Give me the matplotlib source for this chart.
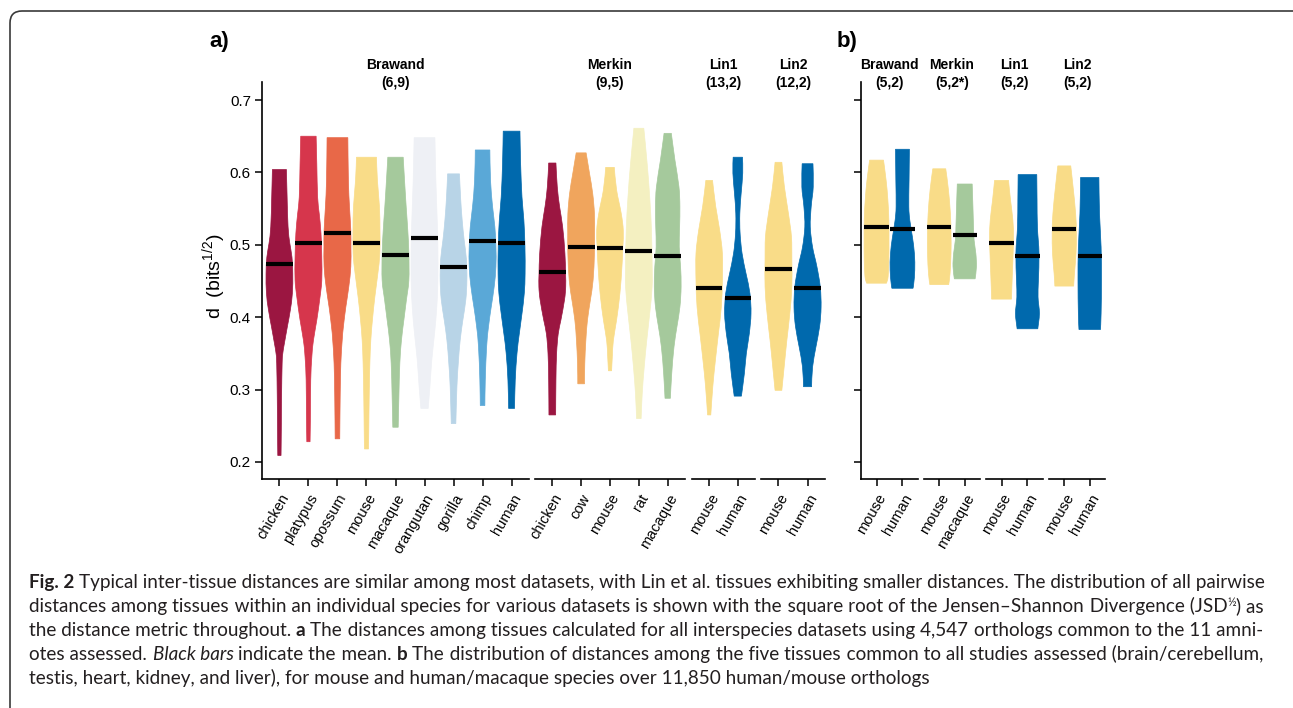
import numpy as np
import matplotlib
matplotlib.use("Agg")
import matplotlib.pyplot as plt
from matplotlib.patches import FancyBboxPatch, PathPatch
from matplotlib.path import Path
from matplotlib.transforms import IdentityTransform

# ---- data: violin profiles are (d, relative width) ----
brawand_species = ["chicken", "platypus", "opossum", "mouse", "macaque",
                   "orangutan", "gorilla", "chimp", "human"]
brawand_means = [0.473, 0.502, 0.517, 0.503, 0.486, 0.509, 0.470, 0.505, 0.503]
brawand_profiles = [
    [(0.604, 0.52), (0.566, 0.57), (0.525, 0.64), (0.502, 0.77), (0.483, 0.93), (0.460, 0.99),
     (0.433, 0.96), (0.410, 0.81), (0.387, 0.59), (0.364, 0.37), (0.350, 0.25), (0.336, 0.20),
     (0.290, 0.16), (0.244, 0.14), (0.209, 0.12)],
    [(0.650, 0.57), (0.612, 0.62), (0.566, 0.68), (0.543, 0.80), (0.516, 0.93), (0.483, 0.99),
     (0.451, 0.99), (0.428, 0.86), (0.396, 0.62), (0.368, 0.37), (0.345, 0.25), (0.313, 0.17),
     (0.267, 0.15), (0.228, 0.12)],
    [(0.648, 0.77), (0.589, 0.81), (0.553, 0.89), (0.520, 0.99), (0.497, 1.00), (0.470, 0.99),
     (0.442, 0.84), (0.414, 0.62), (0.387, 0.44), (0.368, 0.35), (0.336, 0.25), (0.290, 0.20),
     (0.232, 0.17)],
    [(0.621, 0.74), (0.589, 0.81), (0.553, 0.96), (0.520, 1.00), (0.488, 0.99), (0.460, 0.84),
     (0.428, 0.62), (0.396, 0.44), (0.368, 0.32), (0.336, 0.25), (0.290, 0.20), (0.244, 0.17),
     (0.218, 0.15)],
    [(0.621, 0.57), (0.589, 0.67), (0.553, 0.79), (0.520, 0.91), (0.488, 0.99), (0.451, 0.99),
     (0.424, 0.81), (0.396, 0.62), (0.368, 0.44), (0.336, 0.32), (0.290, 0.25), (0.248, 0.20)],
    [(0.648, 0.77), (0.589, 0.84), (0.534, 0.94), (0.497, 0.99), (0.451, 0.99), (0.414, 0.91),
     (0.377, 0.74), (0.341, 0.54), (0.304, 0.40), (0.274, 0.27)],
    [(0.598, 0.44), (0.566, 0.52), (0.534, 0.64), (0.506, 0.79), (0.479, 0.96), (0.451, 0.99),
     (0.424, 0.91), (0.396, 0.69), (0.368, 0.49), (0.336, 0.35), (0.304, 0.25), (0.253, 0.17)],
    [(0.631, 0.54), (0.589, 0.59), (0.553, 0.74), (0.525, 0.91), (0.497, 0.99), (0.470, 0.99),
     (0.442, 0.86), (0.414, 0.64), (0.387, 0.44), (0.359, 0.30), (0.313, 0.20), (0.278, 0.17)],
    [(0.657, 0.62), (0.612, 0.67), (0.566, 0.77), (0.534, 0.91), (0.497, 0.99), (0.460, 1.00),
     (0.433, 0.94), (0.405, 0.77), (0.377, 0.57), (0.350, 0.40), (0.313, 0.27), (0.274, 0.22)],
]

merkin_species = ["chicken", "cow", "mouse", "rat", "macaque"]
merkin_means = [0.462, 0.497, 0.495, 0.492, 0.485]
merkin_profiles = [
    [(0.613, 0.27), (0.580, 0.37), (0.553, 0.54), (0.525, 0.77), (0.488, 0.94), (0.460, 0.99),
     (0.442, 1.00), (0.424, 0.91), (0.396, 0.64), (0.377, 0.44), (0.350, 0.32), (0.313, 0.27),
     (0.265, 0.25)],
    [(0.627, 0.37), (0.599, 0.62), (0.571, 0.86), (0.543, 0.99), (0.516, 1.00), (0.488, 0.99),
     (0.451, 0.89), (0.424, 0.69), (0.396, 0.47), (0.368, 0.35), (0.336, 0.27), (0.308, 0.25)],
    [(0.607, 0.32), (0.576, 0.49), (0.543, 0.84), (0.520, 0.99), (0.497, 0.96), (0.470, 0.89),
     (0.433, 0.74), (0.396, 0.49), (0.368, 0.25), (0.345, 0.17), (0.326, 0.12)],
    [(0.661, 0.37), (0.612, 0.62), (0.566, 0.81), (0.520, 0.94), (0.474, 0.99), (0.442, 0.99),
     (0.405, 0.81), (0.368, 0.59), (0.331, 0.40), (0.294, 0.25), (0.260, 0.17)],
    [(0.654, 0.27), (0.617, 0.54), (0.580, 0.84), (0.553, 0.91), (0.525, 0.89), (0.497, 0.86),
     (0.470, 0.96), (0.442, 1.00), (0.414, 0.91), (0.387, 0.69), (0.359, 0.47), (0.322, 0.30),
     (0.288, 0.20)],
]

lin1_species = ["mouse", "human"]
lin1_means = [0.441, 0.427]
lin1_profiles = [
    [(0.589, 0.25), (0.553, 0.49), (0.520, 0.79), (0.488, 0.99), (0.451, 0.99), (0.414, 0.91),
     (0.377, 0.69), (0.341, 0.47), (0.304, 0.27), (0.265, 0.12)],
    [(0.621, 0.35), (0.599, 0.37), (0.571, 0.25), (0.543, 0.15), (0.516, 0.17), (0.488, 0.32),
     (0.460, 0.62), (0.433, 0.91), (0.405, 0.99), (0.377, 0.86), (0.350, 0.64), (0.322, 0.49),
     (0.291, 0.27)],
]

lin2_species = ["mouse", "human"]
lin2_means = [0.467, 0.441]
lin2_profiles = [
    [(0.614, 0.25), (0.580, 0.44), (0.543, 0.74), (0.511, 0.96), (0.479, 0.99), (0.442, 0.99),
     (0.405, 0.84), (0.368, 0.62), (0.331, 0.42), (0.299, 0.25)],
    [(0.612, 0.40), (0.580, 0.42), (0.553, 0.27), (0.525, 0.20), (0.497, 0.37), (0.470, 0.69),
     (0.442, 0.94), (0.414, 1.00), (0.387, 0.89), (0.359, 0.62), (0.331, 0.37), (0.304, 0.30)],
]

# panel b: five common tissues
b_brawand_species = ["mouse", "human"]
b_brawand_means = [0.524, 0.522]
b_brawand_profiles = [
    [(0.617, 0.56), (0.589, 0.77), (0.562, 0.91), (0.534, 0.99), (0.506, 1.00), (0.479, 0.99),
     (0.456, 0.93), (0.447, 0.80)],
    [(0.632, 0.56), (0.589, 0.53), (0.553, 0.51), (0.534, 0.59), (0.511, 0.80), (0.488, 0.96),
     (0.465, 0.99), (0.447, 0.91), (0.440, 0.85)],
]
b_merkin_species = ["mouse", "macaque"]
b_merkin_means = [0.524, 0.513]
b_merkin_profiles = [
    [(0.605, 0.53), (0.576, 0.75), (0.543, 0.91), (0.516, 0.96), (0.488, 0.96), (0.460, 0.88),
     (0.445, 0.77)],
    [(0.584, 0.61), (0.553, 0.67), (0.525, 0.72), (0.506, 0.77), (0.488, 0.91), (0.470, 0.96),
     (0.453, 0.85)],
]
b_lin1_species = ["mouse", "human"]
b_lin1_means = [0.503, 0.484]
b_lin1_profiles = [
    [(0.589, 0.56), (0.562, 0.72), (0.534, 0.91), (0.511, 0.96), (0.488, 0.93), (0.465, 0.88),
     (0.442, 0.83), (0.425, 0.80)],
    [(0.597, 0.75), (0.562, 0.77), (0.525, 0.80), (0.488, 0.93), (0.451, 0.88), (0.428, 0.85),
     (0.405, 0.96), (0.384, 0.83)],
]
b_lin2_species = ["mouse", "human"]
b_lin2_means = [0.522, 0.485]
b_lin2_profiles = [
    [(0.609, 0.53), (0.580, 0.72), (0.543, 0.93), (0.516, 0.99), (0.488, 0.96), (0.460, 0.83),
     (0.443, 0.77)],
    [(0.593, 0.75), (0.543, 0.80), (0.497, 0.93), (0.451, 0.96), (0.405, 0.93), (0.383, 0.88)],
]

a_strips = [("Brawand", "(6,9)"), ("Merkin", "(9,5)"), ("Lin1", "(13,2)"), ("Lin2", "(12,2)")]
b_strips = [("Brawand", "(5,2)"), ("Merkin", "(5,2*)"), ("Lin1", "(5,2)"), ("Lin2", "(5,2)")]
y_ticks = [0.2, 0.3, 0.4, 0.5, 0.6, 0.7]

caption_lines = [
    [("Fig. 2", "b"), (" Typical inter-tissue distances are similar among most datasets, with Lin et al. "
                       "tissues exhibiting smaller distances. The distribution of all pairwise", "n")],
    [("distances among tissues within an individual species for various datasets is shown with the square "
      "root of the Jensen\u2013Shannon Divergence (JSD", "n"), ("\u00bd", "sup"), (") as", "n")],
    [("the distance metric throughout. ", "n"), ("a", "b"),
     (" The distances among tissues calculated for all interspecies datasets using 4,547 orthologs "
      "common to the 11 amni-", "n")],
    [("otes assessed. ", "n"), ("Black bars", "i"), (" indicate the mean. ", "n"), ("b", "b"),
     (" The distribution of distances among the five tissues common to all studies assessed "
      "(brain/cerebellum,", "n")],
    [("testis, heart, kidney, and liver), for mouse and human/macaque species over 11,850 "
      "human/mouse orthologs", "n")],
]

palette = {
    "chicken": "#9b1641", "platypus": "#d6364c", "opossum": "#e86848", "mouse": "#f9dc88",
    "macaque": "#a5c99c", "orangutan": "#eef0f5", "gorilla": "#b8d4e7", "chimp": "#5aa8d7",
    "human": "#0069ad", "cow": "#f0a55d", "rat": "#f4f0c1",
}

W, H = 1293, 708
plt.rcParams['font.family'] = ['Liberation Sans', 'DejaVu Sans']
plt.rcParams['mathtext.fontset'] = 'custom'
plt.rcParams['mathtext.rm'] = 'Liberation Sans'
plt.rcParams['mathtext.it'] = 'Liberation Sans'

fig = plt.figure(figsize=(W / 100, H / 100), dpi=100)
fig.patch.set_facecolor('white')

YLO, YHI = 0.1765, 0.7249
TOP, BOT = 82, 479


def fx(x):
    return x / W


def fy(y):
    return 1 - y / H


def bezier_through(pts):
    # cubic segments through the knots (Catmull-Rom handles)
    verts = []
    n = len(pts)
    for i in range(n - 1):
        p0, p1 = pts[max(i - 1, 0)], pts[i]
        p2, p3 = pts[i + 1], pts[min(i + 2, n - 1)]
        verts += [p1 + (p2 - p0) / 6, p2 - (p3 - p1) / 6, p2]
    return verts


def violin_path(pos, d, w):
    right = [np.array([pos + a, b]) for a, b in zip(w, d)]
    left = [np.array([pos - a, b]) for a, b in zip(w[::-1], d[::-1])]
    verts = [right[0]] + bezier_through(right) + [left[0]] + bezier_through(left) + [right[0]]
    codes = ([Path.MOVETO] + [Path.CURVE4] * (3 * (len(right) - 1)) + [Path.LINETO]
             + [Path.CURVE4] * (3 * (len(left) - 1)) + [Path.CLOSEPOLY])
    return Path(verts, codes)


def draw_facet(x0, x1, names, profiles, means, half, first, labels):
    ax = fig.add_axes([fx(x0), fy(BOT), (x1 - x0) / W, (BOT - TOP) / H])
    for i, (name, prof, m) in enumerate(zip(names, profiles, means)):
        pos = i + 1
        d = np.array([p[0] for p in prof])
        w = np.array([p[1] for p in prof]) * half
        ax.add_patch(PathPatch(violin_path(pos, d, w), facecolor=palette[name],
                               edgecolor=palette[name], lw=0.5))
        ax.plot([pos - half, pos + half], [m, m], color='black', lw=3,
                solid_capstyle='butt')
    ax.set_xlim(0.4, len(names) + 0.6)
    ax.set_ylim(YLO, YHI)
    ax.set_xticks(range(1, len(names) + 1))
    ax.set_xticklabels(names, rotation=60, ha='right', va='top',
                       rotation_mode='anchor', fontsize=10.5)
    ax.tick_params(axis='x', length=5, width=1.1, pad=4, color='black')
    for s in ['top', 'right']:
        ax.spines[s].set_visible(False)
    ax.spines['bottom'].set_linewidth(1.2)
    if first:
        ax.spines['left'].set_linewidth(1.2)
        ax.set_yticks(y_ticks)
        ax.tick_params(axis='y', length=5, width=1.1, pad=3, labelsize=11)
        if not labels:
            ax.set_yticklabels([])
    else:
        ax.spines['left'].set_visible(False)
        ax.set_yticks([])
    ax.patch.set_alpha(0)
    return ax


a_facets = [(262, 529), (535, 685), (692, 755), (761, 825)]
b_facets = [(861, 918), (924, 980), (986, 1043), (1049, 1105)]

a_data = [(brawand_species, brawand_profiles, brawand_means),
          (merkin_species, merkin_profiles, merkin_means),
          (lin1_species, lin1_profiles, lin1_means),
          (lin2_species, lin2_profiles, lin2_means)]
b_data = [(b_brawand_species, b_brawand_profiles, b_brawand_means),
          (b_merkin_species, b_merkin_profiles, b_merkin_means),
          (b_lin1_species, b_lin1_profiles, b_lin1_means),
          (b_lin2_species, b_lin2_profiles, b_lin2_means)]

for k, ((x0, x1), (nm, pr, mn), (s1, s2)) in enumerate(zip(a_facets, a_data, a_strips)):
    draw_facet(x0, x1, nm, pr, mn, 0.465, k == 0, True)
    cx = (x0 + x1) / 2
    fig.text(fx(cx), fy(65), s1, ha='center', va='center', fontsize=10, fontweight='bold')
    fig.text(fx(cx), fy(83), s2, ha='center', va='center', fontsize=10, fontweight='bold')

for k, ((x0, x1), (nm, pr, mn), (s1, s2)) in enumerate(zip(b_facets, b_data, b_strips)):
    draw_facet(x0, x1, nm, pr, mn, 0.48, k == 0, False)
    cx = (x0 + x1) / 2
    fig.text(fx(cx), fy(65), s1, ha='center', va='center', fontsize=10, fontweight='bold')
    fig.text(fx(cx), fy(83), s2, ha='center', va='center', fontsize=10, fontweight='bold')

fig.text(fx(214), fy(276), r'd  (bits$^{1/2}$)', rotation=90, ha='center', va='center',
         fontsize=14)
fig.text(fx(209), fy(42), 'a)', ha='left', va='center', fontsize=16, fontweight='bold')
fig.text(fx(837), fy(42), 'b)', ha='left', va='center', fontsize=16, fontweight='bold')

# rounded frame round the figure
frame = FancyBboxPatch((10, -40), 1300, H - 11 + 40, boxstyle="round,pad=0,rounding_size=12",
                       transform=IdentityTransform(), fill=False, edgecolor='#3a3a3a', lw=1.2)
fig.patches.append(frame)

# ---- caption, justified like the journal layout ----
renderer = fig.canvas.get_renderer()
CAP_FONT = ['Lato', 'DejaVu Sans']
HAIR = '\u200a'


def cap_props(kind, size):
    p = dict(family=CAP_FONT, fontsize=size, color='#231f20')
    if kind == 'b':
        p['fontweight'] = 'bold'
    if kind == 'i':
        p['fontstyle'] = 'italic'
    if kind == 'sup':
        p['fontsize'] = size * 0.62
    return p


def text_width(s, props):
    t = fig.text(0, 0, s, **props)
    w = t.get_window_extent(renderer).width
    t.remove()
    return w


def advance(s, props):
    return text_width('x' + s + 'x', props) - text_width('xx', props)


def split_words(segs):
    words = []
    broke = True
    for text, kind in segs:
        parts = text.split(' ')
        for i, p in enumerate(parts):
            if not p:
                continue
            if i == 0 and words and not broke:
                words[-1].append([p, kind])
            else:
                words.append([[p, kind]])
        broke = text.endswith(' ')
    return words


base = 10.0
nat5 = text_width(caption_lines[4][0][0], cap_props('n', base))
cap_size = base * 900 / nat5

x_left, x_right = 29, 1264
space_w = advance(' ', cap_props('n', cap_size))
hair_w = advance(HAIR, cap_props('n', cap_size))
for li, segs in enumerate(caption_lines):
    words = split_words(segs)
    n_gaps = len(words) - 1
    natural = sum(advance(s, cap_props(k, cap_size)) for wd in words for s, k in wd)
    natural += n_gaps * space_w
    n_hair = 0
    if li < len(caption_lines) - 1:
        n_hair = max(0, int(round((x_right - x_left - natural) / hair_w)))
    # glue words into runs of one style, padding the gaps with hair spaces
    runs = []
    for wi, wd in enumerate(words):
        for s, k in wd:
            if runs and runs[-1][1] == k:
                runs[-1][0] += s
            else:
                runs.append([s, k])
        if wi < n_gaps:
            cnt = round((wi + 1) * n_hair / n_gaps) - round(wi * n_hair / n_gaps)
            runs[-1][0] += ' ' + HAIR * cnt
    base_y = 583 + 24 * li + 5
    x = x_left
    for s, k in runs:
        rise = 6 if k == 'sup' else 0
        fig.text(fx(x), fy(base_y - rise), s, ha='left', va='baseline', **cap_props(k, cap_size))
        x += advance(s, cap_props(k, cap_size))

fig.savefig('out.png', dpi=100)
